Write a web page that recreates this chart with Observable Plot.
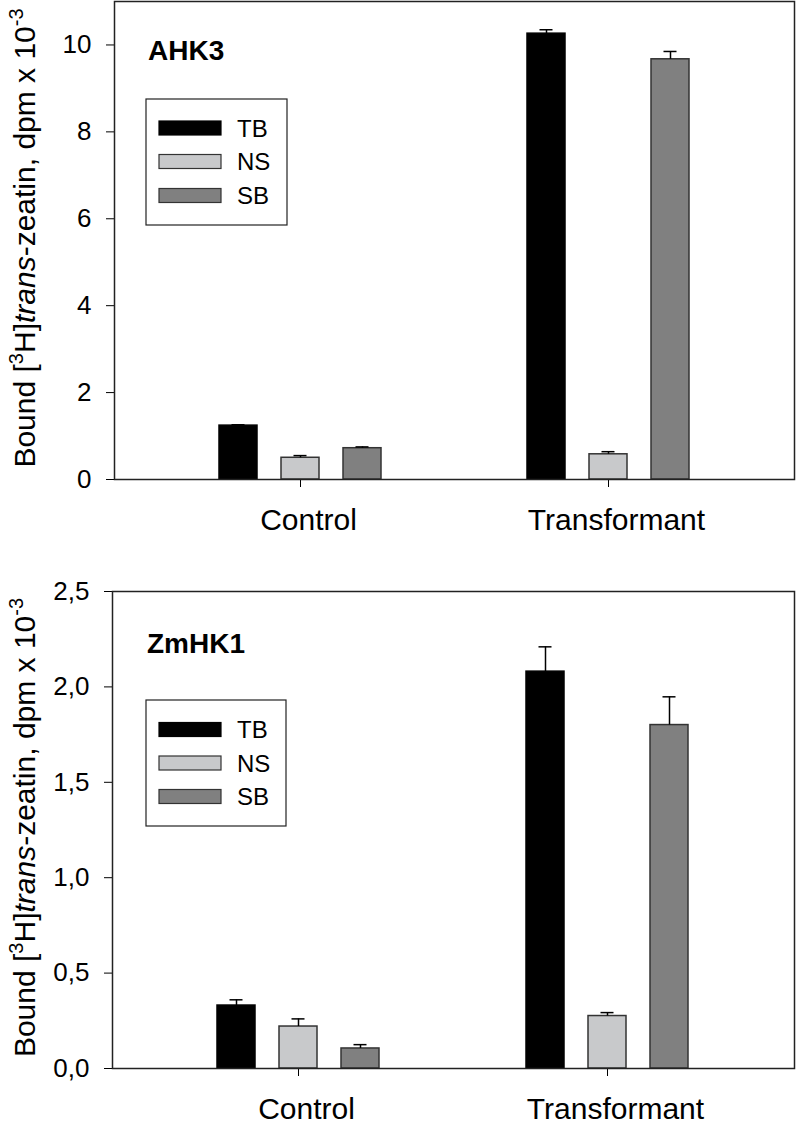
<!DOCTYPE html>
<html>
<head>
<meta charset="utf-8">
<script src="https://cdn.jsdelivr.net/npm/d3@7"></script>
<script src="https://cdn.jsdelivr.net/npm/@observablehq/plot@0.6"></script>
<style>
  html, body { margin: 0; padding: 0; background: white; }
  #chart svg { display: block; }
</style>
</head>
<body>
<div id="chart"></div>
<script>
// ---- data ----
const groups = ["Control", "Transformant"];
const series = ["TB", "NS", "SB"];
const seriesColors = ["#000000", "#c8c9cb", "#808080"];

// AHK3 panel (dpm x 10^-3)
const ahk3TB = [1.24, 10.26];
const ahk3NS = [0.50, 0.58];
const ahk3SB = [0.72, 9.67];
const ahk3TBerr = [0.02, 0.09];
const ahk3NSerr = [0.05, 0.06];
const ahk3SBerr = [0.03, 0.18];
const ahk3Ticks = [0, 2, 4, 6, 8, 10];

// ZmHK1 panel
const zmTB = [0.33, 2.08];
const zmNS = [0.22, 0.275];
const zmSB = [0.105, 1.80];
const zmTBerr = [0.03, 0.13];
const zmNSerr = [0.04, 0.018];
const zmSBerr = [0.02, 0.148];
const zmTicks = [0, 0.5, 1.0, 1.5, 2.0, 2.5];

function rows(vals, errs) {
  const out = [];
  series.forEach((s, si) => {
    groups.forEach((g, gi) => {
      out.push({group: g, series: s, value: vals[si][gi], err: errs[si][gi], top: vals[si][gi] + errs[si][gi]});
    });
  });
  return out;
}

const FONT = "'Liberation Sans', Arial, Helvetica, sans-serif";

function panel({data, yMax, ticks, tickFormat, height, marginTop, marginBottom, marginLeft, title, titleX, titleY, legendBox, legendY}) {
  const offsets = [-62, 0, 62];
  const marks = [];
  series.forEach((s, si) => {
    const d = data.filter(r => r.series === s);
    marks.push(Plot.barY(d, {x: "group", y: "value", fill: seriesColors[si], stroke: si === 0 ? "#000" : "#333", strokeWidth: 1.5, dx: offsets[si]}));
    marks.push(Plot.ruleX(d, {x: "group", y1: "value", y2: "top", dx: offsets[si], stroke: "#000", strokeWidth: 1.5}));
    marks.push(Plot.tickY(d, {x: "group", y: "top", dx: offsets[si], insetLeft: 12.5, insetRight: 12.5, stroke: "#000", strokeWidth: 1.5}));
  });
  const svg = Plot.plot({
    width: 800,
    height,
    marginTop, marginBottom, marginLeft, marginRight: 6,
    style: {fontFamily: FONT, color: "black", background: "white", overflow: "visible"},
    x: {domain: groups, paddingInner: 0.877, paddingOuter: 0.54, label: null},
    y: {domain: [0, yMax], label: null},
    marks: [
      Plot.axisY({ticks, tickFormat, tickSize: 8, tickPadding: 15, fontSize: 26, label: null, stroke: "#000"}),
      // x tick marks only
      Plot.axisX({tickSize: 8, tickFormat: () => "", label: null, stroke: "#000"}),
      // x tick labels, nudged right as in the reference
      Plot.axisX({tickSize: 0, tickPadding: 29, fontSize: 30, label: null, dx: 8}),
      ...marks,
      Plot.frame({stroke: "#222", strokeWidth: 1.5})
    ]
  });
  const root = d3.select(svg);
  const plotTop = marginTop, plotBottom = height - marginBottom;
  // y-axis label
  const lbl = root.append("text")
    .attr("transform", `translate(35,${(plotTop + plotBottom) / 2 - 2}) rotate(-90)`)
    .attr("text-anchor", "middle")
    .attr("font-family", FONT)
    .attr("font-size", 30)
    .attr("fill", "black");
  lbl.append("tspan").text("Bound [");
  lbl.append("tspan").attr("dy", -12).attr("font-size", 20).text("3");
  lbl.append("tspan").attr("dy", 12).text("H]");
  lbl.append("tspan").attr("font-style", "italic").text("trans");
  lbl.append("tspan").text("-zeatin, dpm x 10");
  lbl.append("tspan").attr("dy", -12).attr("font-size", 20).text("-3");
  // panel title
  root.append("text").attr("x", titleX).attr("y", titleY)
    .attr("text-anchor", "start")
    .attr("font-family", FONT).attr("font-weight", "bold").attr("font-size", 28)
    .attr("fill", "black").text(title);
  // legend
  const lg = root.append("g");
  lg.append("rect").attr("x", legendBox[0]).attr("y", legendBox[1])
    .attr("width", legendBox[2]).attr("height", legendBox[3])
    .attr("fill", "white").attr("stroke", "#222").attr("stroke-width", 1.2);
  series.forEach((s, i) => {
    const y = legendY[i];
    lg.append("rect").attr("x", 159).attr("y", y).attr("width", 62).attr("height", 14)
      .attr("fill", seriesColors[i]).attr("stroke", i === 0 ? "#000" : "#333").attr("stroke-width", 1.2);
    lg.append("text").attr("x", 237).attr("y", y + 7).attr("dy", "0.36em")
      .attr("text-anchor", "start")
      .attr("font-family", FONT).attr("font-size", 24).attr("fill", "black").text(s);
  });
  return svg;
}

const commaFmt = d => d3.format(".1f")(d).replace(".", ",");

const topPanel = panel({
  data: rows([ahk3TB, ahk3NS, ahk3SB], [ahk3TBerr, ahk3NSerr, ahk3SBerr]),
  yMax: 11, ticks: ahk3Ticks, tickFormat: d => String(d),
  height: 560, marginTop: 1, marginBottom: 81, marginLeft: 114,
  title: "AHK3", titleX: 148, titleY: 60,
  legendBox: [146, 99, 141, 126], legendY: [121, 154.5, 188.5]
});
const bottomPanel = panel({
  data: rows([zmTB, zmNS, zmSB], [zmTBerr, zmNSerr, zmSBerr]),
  yMax: 2.5, ticks: zmTicks, tickFormat: commaFmt,
  height: 567, marginTop: 31, marginBottom: 59, marginLeft: 112,
  title: "ZmHK1", titleX: 147, titleY: 93,
  legendBox: [146, 140, 140, 126], legendY: [162.5, 196, 229.5]
});
document.getElementById("chart").append(topPanel, bottomPanel);
</script>
</body>
</html>
